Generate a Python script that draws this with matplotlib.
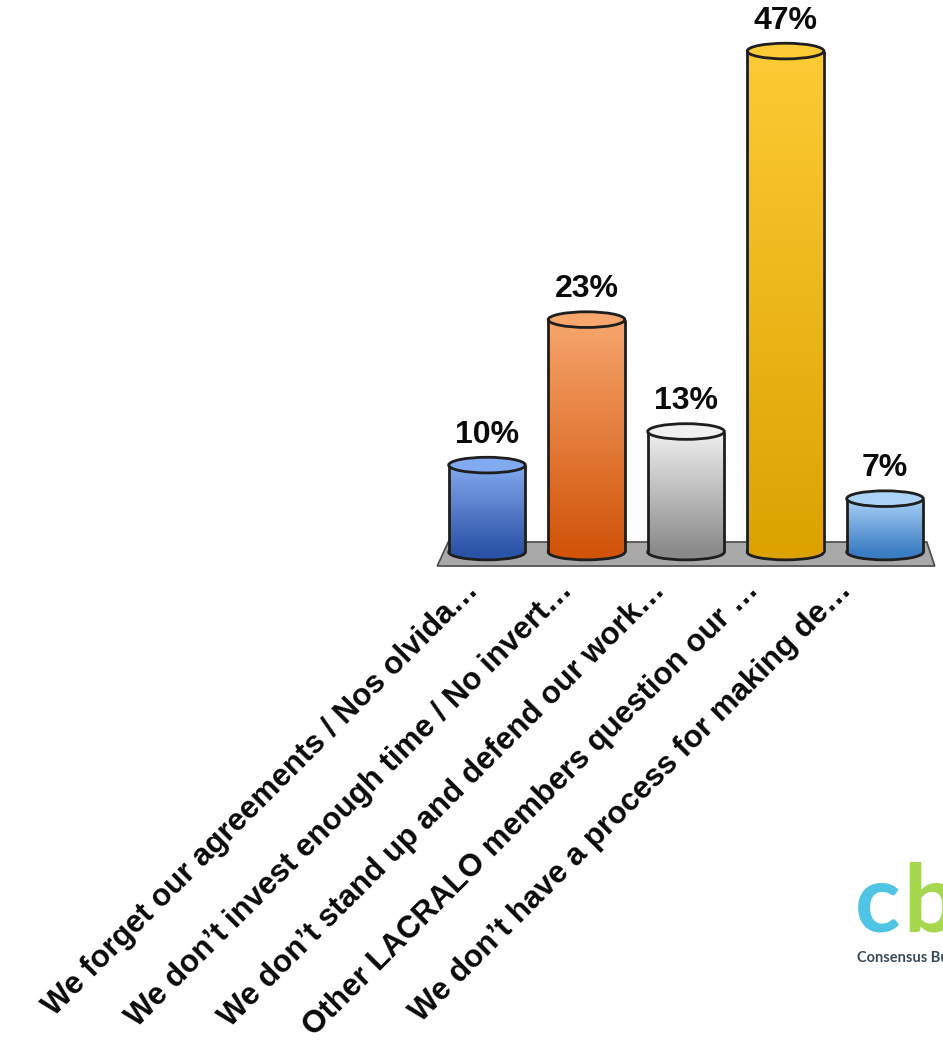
import numpy as np
import matplotlib
matplotlib.use("Agg")
import matplotlib.pyplot as plt
from matplotlib.patches import Ellipse, Polygon
from matplotlib.colors import LinearSegmentedColormap

# answers and their share of votes (%)
categories = [
    "We forget our agreements / Nos olvida\u2026",
    "We don\u2019t invest enough time / No invert\u2026",
    "We don\u2019t stand up and defend our work\u2026",
    "Other LACRALO members question our \u2026",
    "We don\u2019t have a process for making de\u2026",
]
values = [10, 23, 13, 47, 7]
value_labels = ["10%", "23%", "13%", "47%", "7%"]

# gradient colours per bar: (top, bottom)
bar_colors = [
    ("#82aaf0", "#2a52a6"),
    ("#f7a66d", "#d1540a"),
    ("#f0f0f0", "#8a8a8a"),
    ("#fccb35", "#dca300"),
    ("#abd3f7", "#3b7dc4"),
]

W, H = 943, 1055
fig = plt.figure(figsize=(W / 100, H / 100), dpi=100)

# axes placed so that one category = 99.5 px and 1 % = 11.19 px
xstep, ystep = 99.5, 11.19
x0px, y0px = 487, 577
xlo, xhi = -0.6, 4.55
ylo, yhi = -3, 51
left = (x0px + xlo * xstep) / W
width = (xhi - xlo) * xstep / W
bottom = 1 - (y0px - ylo * ystep) / H
height = (yhi - ylo) * ystep / H
ax = fig.add_axes([left, bottom, width, height])
ax.axis("off")

base = 2.23     # cylinders stand on the floor
bw = 0.77       # bar width
eh = 1.4        # ellipse height of caps
edge = "#1e1e1e"

# grey floor
floor = Polygon([(-0.5, 0.98), (4.5, 0.98), (4.42, 3.13), (-0.39, 3.13)],
                closed=True, facecolor="#a9a9a9", edgecolor="#4a4a4a", lw=1.2, zorder=1)
ax.add_patch(floor)

grad = np.linspace(0, 1, 256).reshape(-1, 1)
for i, (v, (ctop, cbot)) in enumerate(zip(values, bar_colors)):
    xa, xb = i - bw / 2, i + bw / 2
    cmap = LinearSegmentedColormap.from_list("c%d" % i, [cbot, ctop])
    ax.add_patch(Ellipse((i, base), bw, eh, facecolor=cbot, edgecolor=edge, lw=2, zorder=2))
    ax.imshow(grad, extent=(xa, xb, base, v), aspect="auto", cmap=cmap,
              origin="lower", zorder=3, interpolation="bilinear")
    ax.plot([xa, xa], [base, v], color=edge, lw=2, zorder=4, solid_capstyle="butt")
    ax.plot([xb, xb], [base, v], color=edge, lw=2, zorder=4, solid_capstyle="butt")
    ax.add_patch(Ellipse((i, v), bw, eh, facecolor=ctop, edgecolor=edge, lw=2, zorder=5))
    ax.text(i, v + 2.0, value_labels[i], ha="center", va="baseline",
            fontsize=23, fontweight="bold", family="Liberation Sans", color="#0a0a0a")

# rotated category labels
label_x = np.arange(len(categories)) * 0.937 - 0.07
for lx, lab in zip(label_x, categories):
    ax.text(lx, -1.3, lab, rotation=45, rotation_mode="anchor", ha="right", va="baseline",
            fontsize=22.5, fontweight="bold", family="Liberation Sans", color="#0a0a0a")

ax.set_xlim(xlo, xhi)
ax.set_ylim(ylo, yhi)

# logo in the bottom-right corner
fig.text(855 / W, 1 - 932 / H, "c", color="#4fc4e4", fontsize=68, fontweight="bold",
         family="Lato", ha="left", va="baseline")
fig.text(903 / W, 1 - 932 / H, "b", color="#a6d84f", fontsize=68, fontweight="bold",
         family="Lato", ha="left", va="baseline")
fig.text(857 / W, 1 - 962 / H, "Consensus Building", color="#3b4a5a", fontsize=10.5,
         fontweight="bold", family="Lato", ha="left", va="baseline")

fig.savefig("out.png", dpi=100)
